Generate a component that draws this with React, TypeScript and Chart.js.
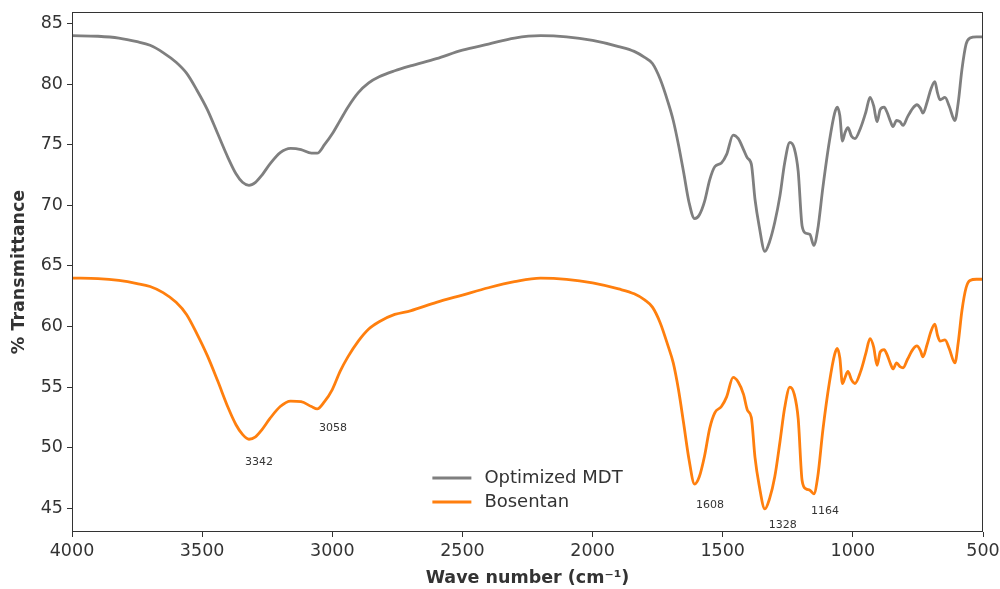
import { useEffect, useRef } from 'react';
import { Chart, registerables } from 'chart.js';

Chart.register(...registerables);

// Wave numbers (cm-1) at which both spectra were read
const waveNumbers = [
  4000, 3900, 3820, 3750, 3700, 3650, 3600, 3560, 3520, 3480, 3440, 3400, 3370, 3345, 3320, 3295,
  3270, 3240, 3200, 3160, 3120, 3080, 3058, 3030, 3000, 2970, 2940, 2900, 2860, 2820, 2760, 2700,
  2600, 2500, 2400, 2300, 2200, 2100, 2000, 1900, 1840, 1800, 1770, 1740, 1710, 1690, 1670, 1650,
  1630, 1608, 1590, 1570, 1550, 1530, 1505, 1485, 1460, 1440, 1420, 1405, 1390, 1376, 1360, 1338,
  1320, 1300, 1280, 1262, 1242, 1225, 1210, 1195, 1180, 1165, 1150, 1135, 1115, 1090, 1070, 1060,
  1050, 1040, 1030, 1019, 1005, 992, 970, 950, 934, 920, 907, 895, 880, 869, 855, 846,
  832, 819, 807, 790, 770, 754, 740, 731, 715, 700, 685, 675, 665, 646, 630, 608,
  595, 581, 565, 550, 525, 500,
];

const mdtTransmittance = [
  84.0, 83.95, 83.8, 83.5, 83.2, 82.6, 81.8, 80.9, 79.5, 77.9, 75.9, 73.9, 72.6, 71.9, 71.65, 71.9,
  72.5, 73.4, 74.35, 74.7, 74.6, 74.3, 74.3, 75.0, 75.9, 77.0, 78.1, 79.3, 80.1, 80.6, 81.1, 81.5,
  82.1, 82.8, 83.3, 83.8, 84.0, 83.9, 83.6, 83.1, 82.7, 82.2, 81.7, 80.4, 78.5, 77.0, 75.0, 72.7,
  70.3, 68.9, 69.2, 70.3, 72.1, 73.2, 73.5, 74.2, 75.8, 75.5, 74.6, 73.9, 73.4, 70.5, 68.3, 66.2,
  67.0, 68.6, 70.8, 73.5, 75.2, 74.7, 72.8, 68.3, 67.7, 67.6, 66.7, 68.0, 71.5, 75.3, 77.6, 78.1,
  77.4, 75.3, 76.0, 76.4, 75.7, 75.5, 76.4, 77.7, 78.9, 78.2, 76.9, 77.9, 78.1, 77.7, 76.9, 76.5,
  77.0, 76.9, 76.6, 77.3, 78.0, 78.3, 78.0, 77.6, 78.5, 79.6, 80.2, 79.3, 78.7, 78.9, 78.2, 77.0,
  78.5, 81.2, 83.3, 83.8, 83.9, 83.9,
];

const bosentanTransmittance = [
  64.0, 63.95, 63.8, 63.55, 63.3, 62.8, 62.0, 61.0, 59.4, 57.6, 55.5, 53.3, 51.9, 51.1, 50.7, 50.9,
  51.5, 52.4, 53.4, 53.85, 53.8, 53.4, 53.2, 53.8, 54.8, 56.3, 57.5, 58.8, 59.8, 60.4, 61.0, 61.3,
  62.0, 62.6, 63.2, 63.7, 64.0, 63.9, 63.6, 63.1, 62.7, 62.2, 61.6, 60.3, 58.4, 57.0, 54.8, 52.0,
  49.1, 47.0, 47.6, 49.3, 51.6, 52.9, 53.4, 54.2, 55.8, 55.4, 54.4, 53.1, 52.5, 49.2, 46.9, 44.95,
  45.8, 47.6, 50.5, 53.3, 55.0, 54.4, 52.4, 47.3, 46.6, 46.5, 46.2, 47.6, 51.5, 55.4, 57.7, 58.2,
  57.4, 55.3, 55.8, 56.3, 55.6, 55.3, 56.3, 57.8, 59.0, 58.3, 56.8, 57.9, 58.1, 57.7, 56.9, 56.5,
  57.0, 56.7, 56.6, 57.3, 58.1, 58.4, 58.0, 57.5, 58.5, 59.6, 60.2, 59.3, 58.8, 58.9, 58.2, 57.0,
  58.7, 61.3, 63.2, 63.8, 63.9, 63.9,
];

const seriesNames = ['Optimized MDT', 'Bosentan'];
const seriesColors = ['#7f7f7f', '#ff7f0e'];

const xTicks = [4000, 3500, 3000, 2500, 2000, 1500, 1000, 500];
const yTicks = [45, 50, 55, 60, 65, 70, 75, 80, 85];

const peakLabels = ['3342', '3058', '1608', '1328', '1164'];
const peakLabelWave = [3282, 2997, 1549, 1269, 1107];
const peakLabelT = [48.8, 51.6, 45.25, 43.6, 44.8];

const FONT = 'DejaVu Sans';
const TEXT = '#333333';

const framePlugin = {
  id: 'frame',
  afterDatasetsDraw(chart: any) {
    const { ctx, chartArea } = chart;
    const l = Math.round(chartArea.left) + 0.5;
    const t = Math.round(chartArea.top) + 0.5;
    const r = Math.round(chartArea.right) - 0.5;
    const b = Math.round(chartArea.bottom) - 0.5;
    ctx.save();
    ctx.strokeStyle = '#333333';
    ctx.lineWidth = 1;
    ctx.strokeRect(l, t, r - l, b - t);
    ctx.restore();
  },
};

const peakLabelPlugin = {
  id: 'peakLabels',
  afterDatasetsDraw(chart: any) {
    const { ctx, scales } = chart;
    ctx.save();
    ctx.font = `11px "${FONT}"`;
    ctx.fillStyle = TEXT;
    ctx.textAlign = 'center';
    ctx.textBaseline = 'middle';
    peakLabels.forEach((txt, i) => {
      const px = scales.x.getPixelForValue(peakLabelWave[i]);
      const py = scales.y.getPixelForValue(peakLabelT[i]);
      ctx.fillText(txt, px, py);
    });
    ctx.restore();
  },
};

const legendPlugin = {
  id: 'customLegend',
  afterDraw(chart: any) {
    const { ctx, chartArea } = chart;
    ctx.save();
    ctx.font = `18px "${FONT}"`;
    const lineLen = 39;
    const gap = 13;
    const rowH = 24;
    const textW = Math.max(...seriesNames.map((n) => ctx.measureText(n).width));
    const totalW = lineLen + gap + textW;
    const cx = (chartArea.left + chartArea.right) / 2;
    const x0 = cx - totalW / 2;
    const yLast = chartArea.bottom - 30;
    seriesNames.forEach((name, i) => {
      const y = yLast - (seriesNames.length - 1 - i) * rowH;
      ctx.strokeStyle = seriesColors[i];
      ctx.lineWidth = 2.8;
      ctx.beginPath();
      ctx.moveTo(x0, y);
      ctx.lineTo(x0 + lineLen, y);
      ctx.stroke();
      ctx.fillStyle = TEXT;
      ctx.textAlign = 'left';
      ctx.textBaseline = 'middle';
      ctx.fillText(name, x0 + lineLen + gap, y);
    });
    ctx.restore();
  },
};

export default function App() {
  const canvasRef = useRef<HTMLCanvasElement | null>(null);

  useEffect(() => {
    if (!canvasRef.current) return;
    const series = [mdtTransmittance, bosentanTransmittance];
    const chart = new Chart(canvasRef.current, {
      type: 'line',
      data: {
        datasets: series.map((vals, s) => ({
          label: seriesNames[s],
          data: waveNumbers.map((w, i) => ({ x: w, y: vals[i] })),
          borderColor: seriesColors[s],
          backgroundColor: seriesColors[s],
          borderWidth: 2.8,
          pointRadius: 0,
          fill: false,
          cubicInterpolationMode: 'monotone' as const,
        })),
      },
      options: {
        responsive: false,
        animation: false,
        devicePixelRatio: 1,
        layout: { padding: { left: 0, top: 12, right: 17, bottom: 0 } },
        plugins: {
          legend: { display: false },
          tooltip: { enabled: false },
        },
        scales: {
          x: {
            type: 'linear',
            reverse: true,
            min: 500,
            max: 4000,
            afterBuildTicks: (scale: any) => {
              scale.ticks = xTicks.map((v) => ({ value: v }));
            },
            afterFit: (scale: any) => {
              scale.height = 57;
              scale.paddingLeft = 0;
              scale.paddingRight = 0;
            },
            grid: {
              drawOnChartArea: false,
              drawTicks: true,
              tickLength: 5,
              color: '#333333',
            },
            border: { display: false },
            ticks: {
              padding: 4,
              maxRotation: 0,
              autoSkip: false,
              color: TEXT,
              font: { family: FONT, size: 17.5 },
              callback: (v: any) => String(v),
            },
            title: {
              display: true,
              text: 'Wave number (cm⁻¹)',
              color: TEXT,
              font: { family: FONT, size: 17.5, weight: 'bold' },
              padding: { top: 0, bottom: 0 },
            },
          },
          y: {
            type: 'linear',
            min: 43.05,
            max: 85.95,
            afterBuildTicks: (scale: any) => {
              scale.ticks = yTicks.map((v) => ({ value: v }));
            },
            afterFit: (scale: any) => {
              scale.width = 72;
              scale.paddingTop = 0;
              scale.paddingBottom = 0;
            },
            grid: {
              drawOnChartArea: false,
              drawTicks: true,
              tickLength: 5,
              color: '#333333',
            },
            border: { display: false },
            ticks: {
              padding: 4,
              color: TEXT,
              font: { family: FONT, size: 17.5 },
              callback: (v: any) => String(v),
            },
            title: {
              display: true,
              text: '% Transmittance',
              color: TEXT,
              font: { family: FONT, size: 17.5, weight: 'bold' },
              padding: { top: 8.5, bottom: 0 },
            },
          },
        },
      },
      plugins: [framePlugin, peakLabelPlugin, legendPlugin],
    });
    return () => chart.destroy();
  }, []);

  return (
    <div style={{ position: 'fixed', left: 0, top: 0, width: 1000, height: 589, background: '#ffffff' }}>
      <canvas ref={canvasRef} width={1000} height={589} />
    </div>
  );
}
